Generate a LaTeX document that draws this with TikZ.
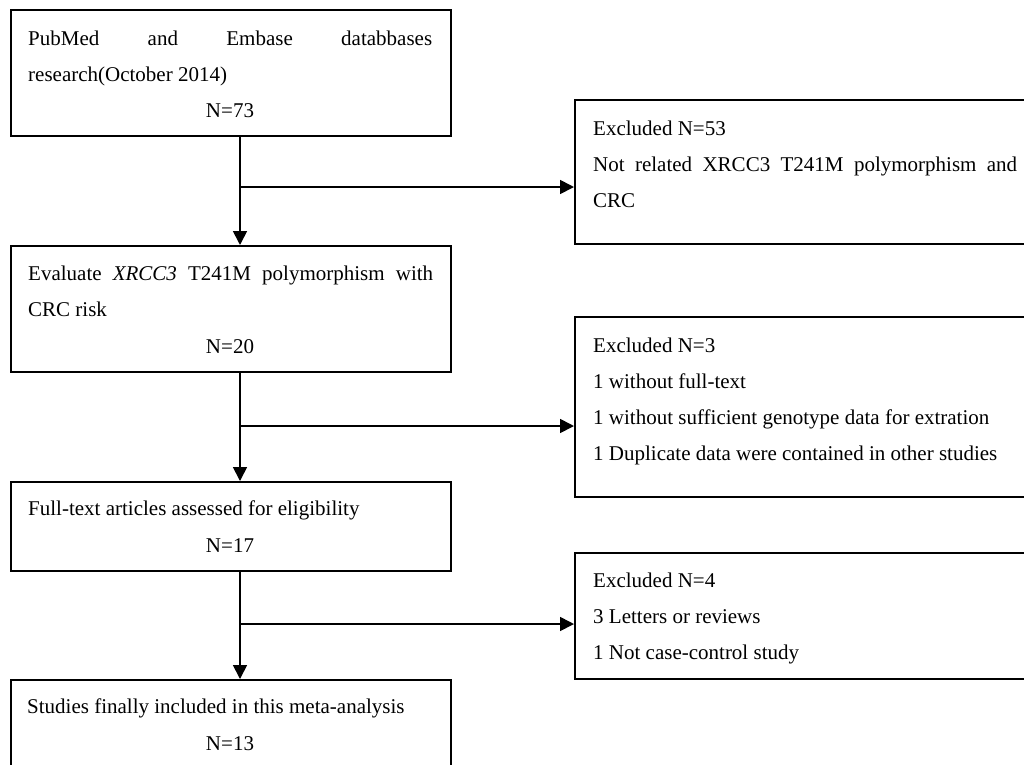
\documentclass[tikz,border=0pt]{standalone}
\usepackage{fontspec}
\setmainfont{Liberation Serif}
\usetikzlibrary{arrows.meta}
\begin{document}
\begin{tikzpicture}[x=1pt,y=-1pt,
 box/.style={draw, line width=1.7pt, anchor=north west, inner sep=0pt},
 txt/.style={anchor=base west, inner sep=0pt, font=\fontsize{21}{36}\selectfont},
 ctxt/.style={anchor=base, inner sep=0pt, font=\fontsize{21}{36}\selectfont},
 conn/.style={line width=1.7pt},
 arr/.style={conn, -{Triangle[length=14pt,width=14pt]}}]
\useasboundingbox[fill=white] (0,0) rectangle (1024,764);
% boxes
\node[box, minimum width=440pt, minimum height=126pt] (b1) at (10,9) {};
\node[box, minimum width=460pt, minimum height=144pt] (b2) at (574,99) {};
\node[box, minimum width=440pt, minimum height=126pt] (b3) at (10,245) {};
\node[box, minimum width=460pt, minimum height=180pt] (b4) at (574,316) {};
\node[box, minimum width=440pt, minimum height=89pt] (b5) at (10,481) {};
\node[box, minimum width=460pt, minimum height=126pt] (b6) at (574,552) {};
\node[box, minimum width=440pt, minimum height=100pt] (b7) at (10,679) {};
% texts box 1
\node[txt] (t1a) at (28,45) {\makebox[404pt][s]{PubMed\hfill and\hfill Embase\hfill databbases}};
\node[txt] (t1b) at (28,81) {research(October 2014)};
\node[ctxt] (t1c) at (230,117) {N=73};
% box 2
\node[txt] (t2a) at (593,135) {Excluded N=53};
\node[txt] (t2b) at (593,171) {\makebox[424pt][s]{Not\hfill related\hfill XRCC3\hfill T241M\hfill polymorphism\hfill and}};
\node[txt] (t2c) at (593,207) {CRC};
% box 3
\node[txt] (t3a) at (28,280) {\makebox[405pt][s]{Evaluate\hfill \textit{XRCC3}\hfill T241M\hfill polymorphism\hfill with}};
\node[txt] (t3b) at (28,316) {CRC risk};
\node[ctxt] (t3c) at (230,353) {N=20};
% box 4
\node[txt] (t4a) at (593,352) {Excluded N=3};
\node[txt] (t4b) at (593,388) {1 without full-text};
\node[txt] (t4c) at (593,424) {1 without sufficient genotype data for extration};
\node[txt] (t4d) at (593,460) {1 Duplicate data were contained in other studies};
% box 5
\node[txt] (t5a) at (28,515) {Full-text articles assessed for eligibility};
\node[ctxt] (t5b) at (230,552) {N=17};
% box 6
\node[txt] (t6a) at (593,587) {Excluded N=4};
\node[txt] (t6b) at (593,623) {3 Letters or reviews};
\node[txt] (t6c) at (593,659) {1 Not case-control study};
% box 7
\node[txt] (t7a) at (27,713) {Studies finally included in this meta-analysis};
\node[ctxt] (t7b) at (230,750) {N=13};
% connectors
\coordinate (v) at (240,0);
\coordinate (j1) at (240,187);
\coordinate (j2) at (240,426);
\coordinate (j3) at (240,624);
\draw[arr] (b1.south -| v) -- (b3.north -| v);
\draw[arr] (b3.south -| v) -- (b5.north -| v);
\draw[arr] (b5.south -| v) -- (b7.north -| v);
\draw[arr] (j1) -- (j1 -| b2.west);
\draw[arr] (j2) -- (j2 -| b4.west);
\draw[arr] (j3) -- (j3 -| b6.west);
\end{tikzpicture}
\end{document}
